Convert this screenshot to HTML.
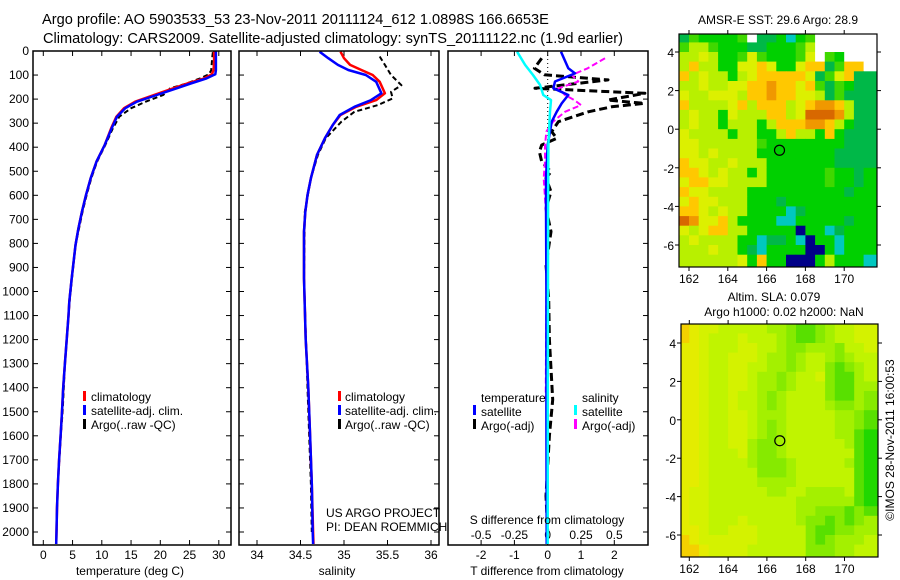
<!DOCTYPE html>
<html><head><meta charset="utf-8"><style>
html,body{margin:0;padding:0;background:#fff;}
svg{display:block;font-family:"Liberation Sans",sans-serif;}
text{fill:#000;font-size:12px;}
</style></head><body>
<svg id="fig" width="900" height="580" viewBox="0 0 900 580" xmlns="http://www.w3.org/2000/svg">
<defs>
<clipPath id="c1"><rect x="33" y="51" width="198" height="494"/></clipPath>
<clipPath id="c2"><rect x="239" y="51" width="200" height="494"/></clipPath>
<clipPath id="c3"><rect x="448" y="51" width="200" height="494"/></clipPath>
<clipPath id="cm1"><rect x="679" y="34" width="198" height="233"/></clipPath>
<clipPath id="cm2"><rect x="681" y="324" width="197" height="233"/></clipPath>
</defs>
<text x="42" y="24" style="font-size:14.6px">Argo profile: AO 5903533_53 23-Nov-2011 20111124_612 1.0898S 166.6653E</text>
<text x="43" y="43" style="font-size:14.6px">Climatology: CARS2009. Satellite-adjusted climatology: synTS_20111122.nc (1.9d earlier)</text>
<g id="g1"></g>
<g id="g2"></g>
<g id="g3"></g>
<g id="gm1"></g>
<g id="gm2"></g>
<rect x="33" y="51" width="198" height="494" fill="none" stroke="#000" stroke-width="1.5"/>
<rect x="239" y="51" width="200" height="494" fill="none" stroke="#000" stroke-width="1.5"/>
<rect x="448" y="51" width="200" height="494" fill="none" stroke="#000" stroke-width="1.5"/>
<text x="130" y="575" text-anchor="middle">temperature (deg C)</text>
<text x="337" y="575" text-anchor="middle">salinity</text>
<text x="547" y="575" text-anchor="middle">T difference from climatology</text>
<text x="547" y="524" text-anchor="middle">S difference from climatology</text>
<text x="326" y="517">US ARGO PROJECT</text>
<text x="326" y="531">PI: DEAN ROEMMICH</text>
<g>
<rect x="83" y="391" width="3" height="10" fill="#f00"/><text x="91" y="401">climatology</text>
<rect x="83" y="405" width="3" height="10" fill="#00f"/><text x="91" y="415">satellite-adj. clim.</text>
<rect x="83" y="419" width="3" height="10" fill="#000"/><text x="91" y="429">Argo(..raw -QC)</text>
</g>
<g>
<rect x="338" y="391" width="3" height="10" fill="#f00"/><text x="345" y="401">climatology</text>
<rect x="338" y="405" width="3" height="10" fill="#00f"/><text x="345" y="415">satellite-adj. clim.</text>
<rect x="338" y="419" width="3" height="10" fill="#000"/><text x="345" y="429">Argo(..raw -QC)</text>
</g>
<g>
<text x="481" y="402">temperature</text><text x="582" y="402">salinity</text>
<rect x="473" y="405" width="3" height="10" fill="#00f"/><text x="481" y="416">satellite</text>
<rect x="473" y="419" width="3" height="10" fill="#000"/><text x="481" y="430">Argo(-adj)</text>
<rect x="574" y="405" width="3" height="10" fill="#0ff"/><text x="582" y="416">satellite</text>
<rect x="574" y="419" width="3" height="10" fill="#f0f"/><text x="582" y="430">Argo(-adj)</text>
</g>
<text x="778" y="24" text-anchor="middle">AMSR-E SST: 29.6 Argo: 28.9</text>
<text x="774" y="301" text-anchor="middle">Altim. SLA: 0.079</text>
<text x="784" y="316" text-anchor="middle">Argo h1000: 0.02 h2000: NaN</text>
<text x="0" y="0" text-anchor="middle" transform="translate(894,440) rotate(-90)">©IMOS 28-Nov-2011 16:00:53</text>
</svg>
<script>
const depthTicks=[0,100,200,300,400,500,600,700,800,900,1000,1100,1200,1300,1400,1500,1600,1700,1800,1900,2000];
const tempTicks=[0,5,10,15,20,25,30];
const salTicks=[34,34.5,35,35.5,36];
const salTickLabels=["34","34.5","35","35.5","36"];
const tdiffTicks=[-2,-1,0,1,2];
const sdiffTicks=[-0.5,-0.25,0,0.25,0.5];
const sdiffLabels=["-0.5","-0.25","0","0.25","0.5"];

const tDepth=[0,20,50,80,97,114,135,155,183,211,238,273,321,391,460,529,599,669,738,807,945,1042,1100,1200,1300,1400,1500,1600,1700,1800,1900,2000,2050];
const satT=[29.5,29.5,29.5,29.5,29.4,27.9,25.2,22.8,19.4,16,14,12.6,11.7,10.5,9.1,8.1,7.3,6.6,6.0,5.5,4.85,4.45,4.3,4.0,3.7,3.4,3.2,2.95,2.7,2.5,2.35,2.25,2.2];
const climT=[29.2,29.2,29.2,29.1,28.8,27.5,24.6,22.2,18.9,15.7,13.8,12.5,11.6,10.5,9.1,8.1,7.3,6.6,6.0,5.5,4.85,4.45,4.3,4.0,3.7,3.4,3.2,2.95,2.7,2.5,2.35,2.25,2.2];
const argoTDepth=[5,20,50,80,97,114,135,155,183,211,238,273,321,391,460,529,599,669,738,807,945,1042,1100,1200,1300,1400,1500,1600,1700,1800,1900,2000];
const argoT=[29.0,28.9,28.8,28.7,28.3,26.8,24.5,21.7,20.5,17.5,15,13,11.9,10.6,9.2,8.2,7.4,6.7,6.1,5.5,4.9,4.5,4.3,4.0,3.7,3.5,3.3,3.0,2.75,2.5,2.35,2.25];

const sDepth=[3,30,58,79,100,128,176,204,232,266,308,363,432,529,599,669,751,945,1200,1400,1600,1800,2000,2050];
const satS=[34.72,34.82,34.93,35.05,35.25,35.37,35.43,35.31,35.12,34.95,34.87,34.78,34.69,34.62,34.58,34.555,34.54,34.54,34.56,34.59,34.61,34.63,34.64,34.645];
const climS=[34.96,35.0,35.07,35.2,35.33,35.41,35.47,35.37,35.14,34.96,34.87,34.78,34.69,34.62,34.58,34.555,34.54,34.54,34.56,34.59,34.61,34.63,34.645,34.65];
const argoSDepth=[23,58,100,142,170,197,225,253,294,363,432,529,669,945,1400,1600,1800,2000];
const argoS=[35.41,35.47,35.54,35.66,35.54,35.56,35.39,35.12,34.97,34.79,34.70,34.62,34.55,34.54,34.58,34.60,34.62,34.63];

const tSatDepth=[3,72,93,127,155,183,218,253,294,335,391,529,627,1000,1500,2050];
const tSatDiff=[0.40,0.62,0.82,0.22,0.17,0.62,0.42,0.27,0.12,0.07,0,-0.05,-0.05,-0.04,-0.04,-0.03];
const sSatDepth=[3,58,100,141,183,204,253,391,669,1000,1500,2050];
const sSatDiff=[-0.23,-0.17,-0.11,-0.058,-0.033,0.025,0.017,0.005,0.003,0.002,0.001,0.0];
const sArgoDepth=[30,72,100,127,155,183,204,225,253,294,335,391,460,529,700,1000,1450];
const sArgoDiff=[0.43,0.30,0.18,0.23,0.08,0.13,0.2,0.25,0.13,0.04,-0.01,-0.02,-0.02,-0.03,-0.01,-0.01,-0.015];
const tArgoDepth=[30,72,99,120,155,176,204,218,232,253,294,335,363,391,419,460,502,529,585,654,751,890,1029,1200,1450,1600,1850,2000];
const tArgoDiff=[-0.18,-0.4,-0.1,1.81,-0.38,2.92,1.8,2.9,1.92,1.22,0.32,0.12,0.27,-0.18,-0.25,-0.18,0.1,-0.05,0.1,-0.05,0.1,-0.05,0.03,0.05,0.15,0.05,-0.05,0.0];

const latTicks=[4,2,0,-2,-4,-6];
const lonTicks=[162,164,166,168,170];
const argoLon=166.6653, argoLat=-1.0898;
const sstGrid=[
"TgGGGGgWTTGCGgWWWWWW","gyygGGGTTGGGgyWWWWWW","yyYyGGgYgGGGgYWgGWWW","yOyyGGYYOYGGYOOTgOOW",
"OyYyyGyYOOOOOYTgYOTT","yyYyyYYOOoOOYOgTgGTT","YyyYYYyOOoOOYYyTgTTT","OyyyyYOyOOOyYOooOyTT",
"yYyyGYyyyOOyYRRRoyTT","yYyyGyyyGyOOOooOyGTT","YyyyyGyyGGyOyyGOGTTT","YYyyyyyygGGGGGGGGTTT",
"YYyYyyyyGGGGGGGGTTTT","OYYyyYyyyGGGGGGGTTTT","OOYyYyyGyGGGGGGgGGTG","YOOYYyyyyGGGGGGgGGTG",
"OYYyyyyGGGGGGGGGGTGG","YOYYyyyGGGTGGGGGGGGG","OOYyYyyGGGGCTGGGGGGG","RoYYOyGGGGCCGGGGGTGG",
"YyYOOyyGGGGGBGGCTGGG","yYyyyyGGCTTGCBGGCGGG","yyyYyyGTCGGGGBBGCGGG","yyyyyyYGOGGBBBGyGGGC"];
const slaGrid=[
"abccdddddeefhhfeddcc","abcdddcdddefhhfeddcc","bbcdddccddeffeeefddc","bbcddcccdeefeddefedd",
"bbcddccddeefeddfhfed","bbcddccdeefeddcfhhed","bbcddccdeefedddfhhee","bbcddcddefeddddfhhef",
"bbcddcddefeddddeffef","bbcddccdeeedddddeefh","bbcddccdefedddddeefh","bbcddccdefedddddeehk",
"bbcddcceffeddddddehk","bbcdddceffedddddddhk","bbcddddefffedddddehk","bbcdddddfffeddddddhk",
"bbcdddddeeeeddddddhk","bccddddddeeddeeeedhk","bccdddddddddeeeeeehk","bccdddddddddeefffhfh",
"bccdddcdddddeffhfhfe","bbcddcccdddddfhhffee","abccccccdddddfhfeeed","aabccccddddddfffeedd"];
const sstColors={T:"#00b848",g:"#40d800",G:"#00d000",C:"#00c8c0",W:"#ffffff",y:"#b8f000",Y:"#dcf000",O:"#ffc800",o:"#f09800",R:"#d86800",B:"#000088"};
const slaColors={a:"#f4d000",b:"#e4ec00",c:"#d4f200",d:"#c0f400",e:"#a4f000",f:"#86ea00",h:"#58e000",k:"#20d800"};

const NS="http://www.w3.org/2000/svg";
function mk(tag,parent,attrs){const e=document.createElementNS(NS,tag);for(const k in attrs)e.setAttribute(k,attrs[k]);parent.appendChild(e);return e;}
const dy=d=>51+d*0.2405;
const tx=t=>43.3+t*5.85;
const sx=s=>257+(s-34)*87;
const dtx=v=>547.7+v*33.3;
const dsx=v=>547.7+v*133.2;

const g1=document.getElementById('g1'),g2=document.getElementById('g2'),g3=document.getElementById('g3');
depthTicks.forEach(d=>{
  const y=dy(d);
  const lab=mk('text',g1,{x:29,y:y+4,'text-anchor':'end'});lab.textContent=String(d);
  
  
  [[33,38],[226,231],[239,244],[434,439],[643,648]].forEach(p=>{
    const t=mk('line',g1,{x1:p[0],x2:p[1],y1:y,y2:y,stroke:'#000','stroke-width':1});
    
    
  });
});
function xTicks(g,vals,labels,f,labY,name){
  vals.forEach((v,i)=>{
    const x=f(v);
    [[51,56],[540,545]].forEach(p=>{
      const t=mk('line',g,{x1:x,x2:x,y1:p[0],y2:p[1],stroke:'#000','stroke-width':1});
      
      
    });
    const l=mk('text',g,{x:x,y:labY,'text-anchor':'middle'});l.textContent=labels[i];
    
    
  });
}
xTicks(g1,tempTicks,tempTicks.map(String),tx,559,'temperature');
xTicks(g2,salTicks,salTickLabels,sx,559,'salinity');
xTicks(g3,tdiffTicks,tdiffTicks.map(String),dtx,559,'t-diff');
sdiffTicks.forEach((v,i)=>{
  const l=mk('text',g3,{x:dsx(v),y:539,'text-anchor':'middle'});l.textContent=sdiffLabels[i];
  
  
});
function line(g,clip,xs,ds,fx,color,w,dash,name){
  const pts=xs.map((v,i)=>fx(v).toFixed(1)+','+dy(ds[i]).toFixed(1)).join(' ');
  const p=mk('polyline',g,{points:pts,fill:'none',stroke:color,'stroke-width':w,'clip-path':'url(#'+clip+')','stroke-linejoin':'round'});
  if(dash)p.setAttribute('stroke-dasharray',dash);
  
  
}
line(g1,'c1',argoT,argoTDepth,tx,'#000',2,'5 3','argo-temperature-line');
line(g1,'c1',climT,tDepth,tx,'#f00',2.5,null,'climatology-temperature-line');
line(g1,'c1',satT,tDepth,tx,'#00f',2.5,null,'satellite-temperature-line');
line(g2,'c2',argoS,argoSDepth,sx,'#000',2,'5 3','argo-salinity-line');
line(g2,'c2',climS,sDepth,sx,'#f00',2.5,null,'climatology-salinity-line');
line(g2,'c2',satS,sDepth,sx,'#00f',2.5,null,'satellite-salinity-line');
const zl=mk('line',g3,{x1:dtx(0),x2:dtx(0),y1:51,y2:545,stroke:'#000','stroke-width':1,'stroke-dasharray':'1 3'});


line(g3,'c3',tArgoDiff,tArgoDepth,dtx,'#000',3,'8 4','argo-t-diff-line');
line(g3,'c3',sArgoDiff,sArgoDepth,dsx,'#f0f',2,'6 3','argo-s-diff-line');
line(g3,'c3',tSatDiff,tSatDepth,dtx,'#00f',2.5,null,'satellite-t-diff-line');
line(g3,'c3',sSatDiff,sSatDepth,dsx,'#0ff',2.5,null,'satellite-s-diff-line');

function drawMap(gid,clip,grid,colors,box,lonX,latY,name){
  const g=document.getElementById(gid);
  const cg=mk('g',g,{'clip-path':'url(#'+clip+')'});
  
  
  grid.forEach((row,r)=>{
    for(let c=0;c<row.length;c++){
      const lon0=161.5+0.5*c, lat0=5-0.5*r;
      const x0=lonX(lon0), x1=lonX(lon0+0.5+(c===row.length-1?0.5:0));
      const y0=latY(lat0), y1=latY(lat0-0.5-(r===grid.length-1?0.5:0));
      const cell=mk('rect',cg,{x:x0.toFixed(1),y:y0.toFixed(1),width:(x1-x0+0.4).toFixed(1),height:(y1-y0+0.4).toFixed(1),fill:colors[row[c]]});
      
      
    }
  });
  const fr=mk('rect',g,{x:box[0],y:box[1],width:box[2]-box[0],height:box[3]-box[1],fill:'none',stroke:'#000','stroke-width':1.2});
  
  
  latTicks.forEach(v=>{
    const y=latY(v);
    const l=mk('text',g,{x:box[0]-5,y:y+5,'text-anchor':'end'});l.textContent=String(v);
    
    
    [[box[0]-4,box[0]],[box[2],box[2]+4]].forEach(p=>{
      const t=mk('line',g,{x1:p[0],x2:p[1],y1:y,y2:y,stroke:'#000'});
      
      
    });
  });
  lonTicks.forEach(v=>{
    const x=lonX(v);
    const l=mk('text',g,{x:x,y:box[3]+16,'text-anchor':'middle'});l.textContent=String(v);
    
    
    [[box[1]-4,box[1]],[box[3],box[3]+4]].forEach(p=>{
      const t=mk('line',g,{x1:x,x2:x,y1:p[0],y2:p[1],stroke:'#000'});
      
      
    });
  });
  const m=mk('circle',g,{cx:lonX(argoLon),cy:latY(argoLat),r:5,fill:'none',stroke:'#000','stroke-width':1.2});
  
  
}
drawMap('gm1','cm1',sstGrid,sstColors,[679,34,877,267],l=>689+(l-162)*19.4,a=>52+(4-a)*19.3,'sst-map');
drawMap('gm2','cm2',slaGrid,slaColors,[681,324,878,557],l=>689.3+(l-162)*19.4,a=>343+(4-a)*19.2,'sla-map');
</script>
</body></html>
